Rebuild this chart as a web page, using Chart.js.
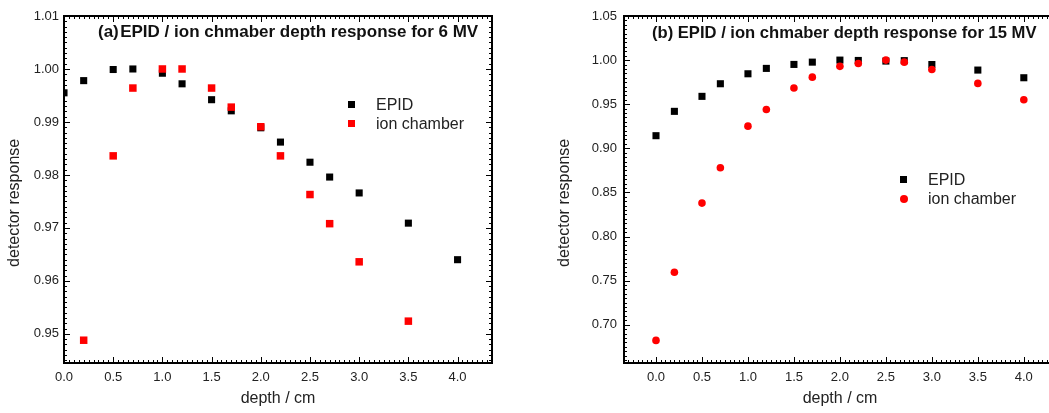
<!DOCTYPE html>
<html>
<head>
<meta charset="utf-8">
<script src="https://cdn.jsdelivr.net/npm/chart.js@4.4.1/dist/chart.umd.min.js"></script>
<style>
  html, body { margin: 0; padding: 0; background: #fff; overflow: hidden; width: 1049px; height: 413px; }
  .panel { position: absolute; top: 0; height: 413px; }
  .title { position: absolute; font: bold 17px "Liberation Sans", Arial, sans-serif; color: #111; white-space: nowrap; line-height: 19px; }
  .leg { position: absolute; font: 16px "Liberation Sans", Arial, sans-serif; color: #222; white-space: nowrap; line-height: 18px; }
  .leg .row { position: relative; height: 19.3px; }
  .leg .mk { position: absolute; }
  .leg .tx { position: absolute; top: 0; }
</style>
</head>
<body>
<div class="panel" style="left:0;width:500px;"><canvas id="c6" width="500" height="413"></canvas></div>
<div class="panel" style="left:550px;width:514px;"><canvas id="c15" width="514" height="413"></canvas></div>

<div class="title" style="left:98px;top:22px;">(a)&#8202;EPID / ion chmaber depth response for 6 MV</div>
<div class="title" style="left:652px;top:23px;font-size:16.6px;">(b) EPID / ion chmaber depth response for 15 MV</div>

<div class="leg" style="left:348px;top:96px;">
  <div class="row"><div class="mk" style="left:0;top:5px;width:7px;height:7px;background:#000;"></div><div class="tx" style="left:28px;">EPID</div></div>
  <div class="row"><div class="mk" style="left:0;top:5px;width:7px;height:7px;background:#ff0000;"></div><div class="tx" style="left:28px;">ion chamber</div></div>
</div>
<div class="leg" style="left:900px;top:171px;">
  <div class="row"><div class="mk" style="left:0;top:5px;width:7px;height:7px;background:#000;"></div><div class="tx" style="left:28px;">EPID</div></div>
  <div class="row"><div class="mk" style="left:0;top:4.5px;width:8px;height:8px;border-radius:50%;background:#ff0000;"></div><div class="tx" style="left:28px;">ion chamber</div></div>
</div>

<script>
// ---------- data ----------
const depth6Epid = [0.0, 0.2, 0.5, 0.7, 1.0, 1.2, 1.5, 1.7, 2.0, 2.2, 2.5, 2.7, 3.0, 3.5, 4.0];
const epid6      = [0.9955, 0.9978, 0.9999, 1.0000, 0.9992, 0.9972, 0.9942, 0.9921, 0.9889, 0.9862, 0.9824, 0.9796, 0.9766, 0.9709, 0.9640];
const depth6Ion  = [0.2, 0.5, 0.7, 1.0, 1.2, 1.5, 1.7, 2.0, 2.2, 2.5, 2.7, 3.0, 3.5];
const ion6       = [0.9488, 0.9836, 0.9964, 1.0000, 1.0000, 0.9964, 0.9928, 0.9891, 0.9836, 0.9763, 0.9708, 0.9636, 0.9524];

const depth15    = [0.0, 0.2, 0.5, 0.7, 1.0, 1.2, 1.5, 1.7, 2.0, 2.2, 2.5, 2.7, 3.0, 3.5, 4.0];
const epid15     = [0.9143, 0.9419, 0.9589, 0.9732, 0.9845, 0.9906, 0.9951, 0.9977, 1.0000, 0.9996, 0.9989, 0.9994, 0.9950, 0.9887, 0.9800];
const ion15      = [0.6822, 0.7594, 0.8379, 0.8780, 0.9251, 0.9440, 0.9683, 0.9807, 0.9929, 0.9962, 1.0000, 0.9977, 0.9894, 0.9736, 0.9550];

const xTicks     = [0.0, 0.5, 1.0, 1.5, 2.0, 2.5, 3.0, 3.5, 4.0];
const yTicks6    = [0.95, 0.96, 0.97, 0.98, 0.99, 1.00, 1.01];
const yTicks15   = [0.70, 0.75, 0.80, 0.85, 0.90, 0.95, 1.00, 1.05];

const seriesNames = ['EPID', 'ion chamber'];
const xTitle = 'depth / cm';
const yTitle = 'detector response';

// ---------- helpers ----------
const pts = (xs, ys) => xs.map((x, i) => ({ x: x, y: ys[i] }));
const FONT = '"Liberation Sans", Arial, sans-serif';
const TXT = '#222';

const frameTicks = {
  id: 'frameTicks',
  afterDatasetsDraw(chart, args, o) {
    const { ctx, chartArea: a, scales: { x, y } } = chart;
    ctx.save();
    ctx.strokeStyle = '#000';
    ctx.lineWidth = 1;
    const line = (x1, y1, x2, y2) => { ctx.beginPath(); ctx.moveTo(x1, y1); ctx.lineTo(x2, y2); ctx.stroke(); };
    const xs = (v) => Math.round(x.getPixelForValue(v)) + 0.5;
    const ys = (v) => Math.round(y.getPixelForValue(v)) + 0.5;
    let n0 = Math.ceil(x.min / o.xMinor - 1e-6), n1 = Math.floor(x.max / o.xMinor + 1e-6);
    for (let i = n0; i <= n1; i++) { const p = xs(i * o.xMinor); line(p, a.bottom, p, a.bottom - o.minorLen); line(p, a.top, p, a.top + o.minorLen); }
    n0 = Math.ceil(y.min / o.yMinor - 1e-6); n1 = Math.floor(y.max / o.yMinor + 1e-6);
    for (let i = n0; i <= n1; i++) { const p = ys(i * o.yMinor); line(a.left, p, a.left + o.minorLen, p); line(a.right, p, a.right - o.minorLen, p); }
    x.ticks.forEach(t => { const p = xs(t.value); line(p, a.bottom, p, a.bottom - o.majorLen); line(p, a.top, p, a.top + o.majorLen); });
    y.ticks.forEach(t => { const p = ys(t.value); line(a.left, p, a.left + o.majorLen, p); line(a.right, p, a.right - o.majorLen, p); });
    ctx.lineWidth = 2;
    ctx.strokeRect(a.left, a.top, a.right - a.left, a.bottom - a.top);
    ctx.restore();
  }
};

function makeChart(id, cfg) {
  return new Chart(document.getElementById(id), {
    type: 'scatter',
    data: {
      datasets: [
        { label: seriesNames[1], data: cfg.ion, pointStyle: cfg.ionStyle, pointRadius: cfg.ionRadius, pointHoverRadius: cfg.ionRadius,
          backgroundColor: '#ff0000', borderWidth: 0, order: 0, clip: 0 },
        { label: seriesNames[0], data: cfg.epid, pointStyle: 'rect', pointRadius: 5, pointHoverRadius: 5,
          backgroundColor: '#000000', borderWidth: 0, order: 1, clip: 0 }
      ]
    },
    options: {
      responsive: false,
      animation: false,
      events: [],
      layout: { padding: { top: 16, right: 8, left: 0, bottom: 0 } },
      plugins: {
        legend: { display: false },
        tooltip: { enabled: false },
        frameTicks: { xMinor: 0.05, yMinor: cfg.yMinor, majorLen: 6, minorLen: 3 }
      },
      scales: {
        x: {
          type: 'linear', min: cfg.xMin, max: 4.35,
          afterBuildTicks: s => { s.ticks = xTicks.map(v => ({ value: v })); },
          afterFit: s => { s.height = 50; },
          grid: { display: false, drawTicks: false },
          border: { display: false },
          ticks: { padding: 7, color: TXT, font: { family: FONT, size: 13 }, callback: v => v.toFixed(1), maxRotation: 0, autoSkip: false },
          title: { display: true, text: xTitle, color: TXT, font: { family: FONT, size: 16 }, padding: { top: 0, bottom: 5 } }
        },
        y: {
          type: 'linear', min: cfg.yMin, max: cfg.yMax,
          afterBuildTicks: s => { s.ticks = cfg.yTicks.map(v => ({ value: v })); },
          afterFit: s => { s.width = cfg.yWidth; },
          grid: { display: false, drawTicks: false },
          border: { display: false },
          ticks: { padding: cfg.yPad, color: TXT, font: { family: FONT, size: 13 }, callback: v => v.toFixed(2), autoSkip: false },
          title: { display: true, text: yTitle + '      ', color: TXT, font: { family: FONT, size: 16 }, padding: { top: 5, bottom: 0 } }
        }
      }
    },
    plugins: [frameTicks]
  });
}

makeChart('c6', {
  epid: pts(depth6Epid, epid6), ion: pts(depth6Ion, ion6),
  ionStyle: 'rect', ionRadius: 5.3,
  xMin: 0, yMin: 0.9445, yMax: 1.01, yTicks: yTicks6, yMinor: 0.001,
  yWidth: 64, yPad: 5
});
makeChart('c15', {
  epid: pts(depth15, epid15), ion: pts(depth15, ion15),
  ionStyle: 'circle', ionRadius: 3.8,
  xMin: -0.348, yMin: 0.6566, yMax: 1.05, yTicks: yTicks15, yMinor: 0.005,
  yWidth: 74, yPad: 7
});
</script>
</body>
</html>
